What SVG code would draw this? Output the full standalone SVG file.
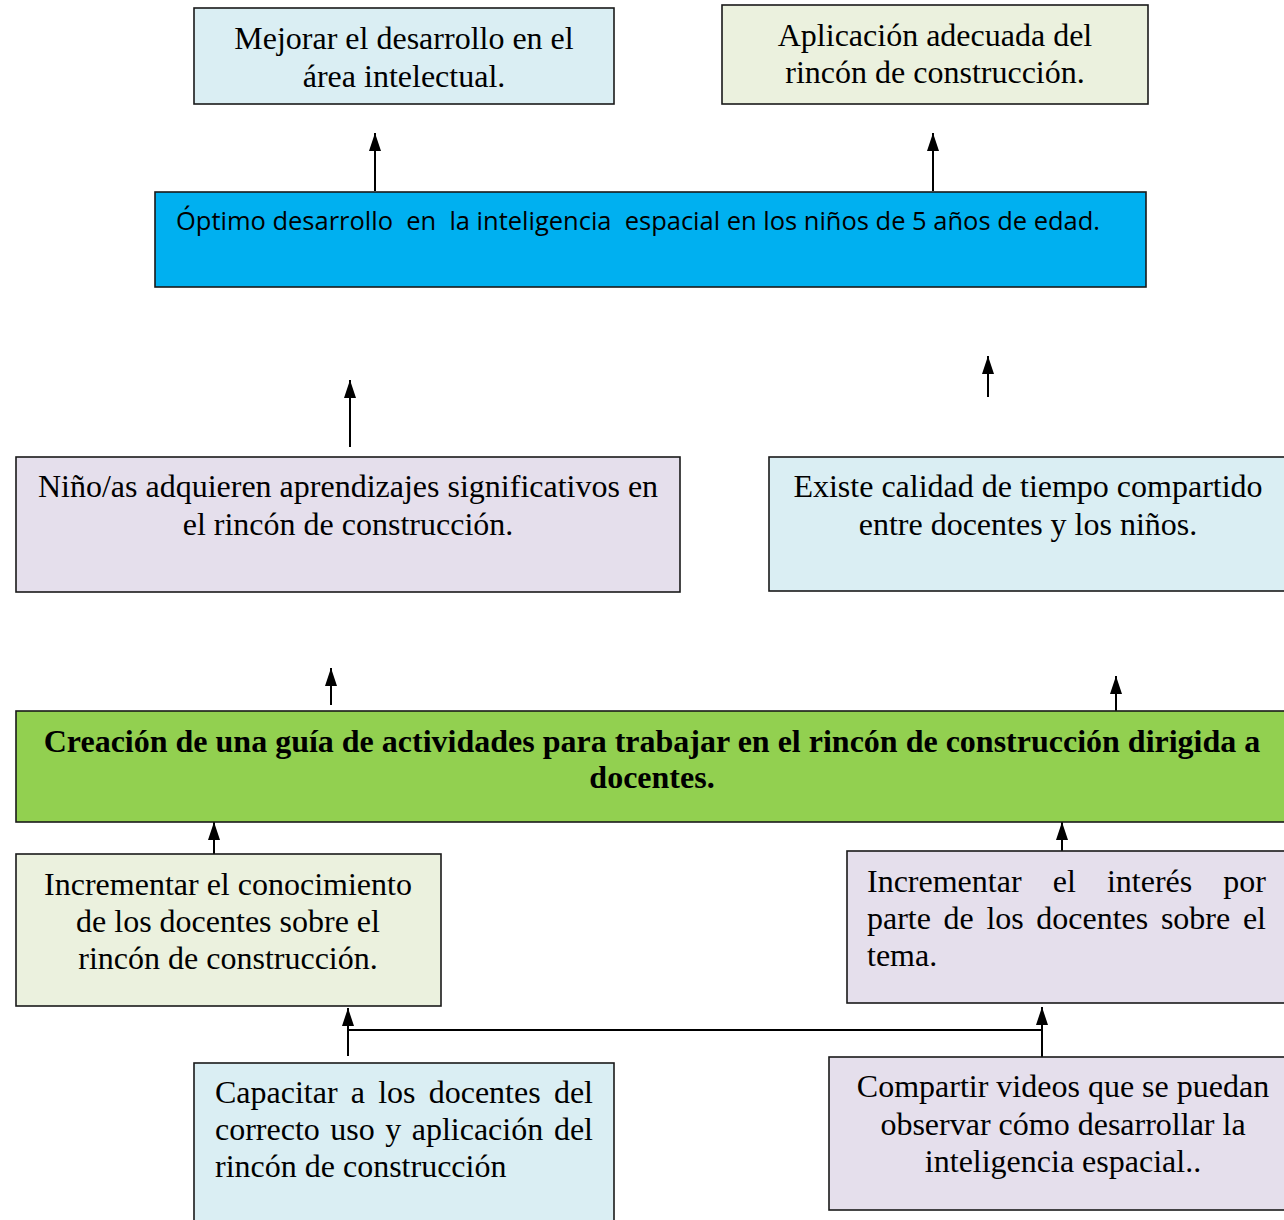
<svg xmlns="http://www.w3.org/2000/svg" width="1284" height="1220" viewBox="0 0 1284 1220">
<defs>
<marker id="ah" viewBox="0 0 18 12" refX="18" refY="6" markerWidth="18" markerHeight="12" markerUnits="userSpaceOnUse" orient="auto">
<path d="M0,0 L18,6 L0,12 Z" fill="#000"/>
</marker>
<style>
.box{stroke:#1a1a1a;stroke-width:1.6}
.t{font-family:"Liberation Serif","Times New Roman",serif;font-size:32px;fill:#000}
.c{text-anchor:middle}
.b{font-weight:bold}
.s{font-family:"Open Sans","Noto Sans",sans-serif;font-size:25px;fill:#000}
.con{stroke:#000;stroke-width:2;fill:none}
</style>
</defs>
<rect width="1284" height="1220" fill="#fff"/>

<g id="connectors">
<line class="con" x1="375" y1="191" x2="375" y2="133" marker-end="url(#ah)"/>
<line class="con" x1="933" y1="191" x2="933" y2="133" marker-end="url(#ah)"/>
<line class="con" x1="350" y1="447" x2="350" y2="380" marker-end="url(#ah)"/>
<line class="con" x1="988" y1="397" x2="988" y2="356" marker-end="url(#ah)"/>
<line class="con" x1="331" y1="705" x2="331" y2="668" marker-end="url(#ah)"/>
<line class="con" x1="1116" y1="712" x2="1116" y2="676" marker-end="url(#ah)"/>
<line class="con" x1="214" y1="854" x2="214" y2="822" marker-end="url(#ah)"/>
<line class="con" x1="1062" y1="851" x2="1062" y2="822" marker-end="url(#ah)"/>
<line class="con" x1="348" y1="1056" x2="348" y2="1008" marker-end="url(#ah)"/>
<line class="con" x1="1042" y1="1058" x2="1042" y2="1007" marker-end="url(#ah)"/>
<line class="con" x1="348" y1="1030" x2="1042" y2="1030"/>
</g>

<g id="n1">
<rect class="box" x="194" y="8" width="420" height="96" fill="#DAEEF3"/>
<text class="t c" x="404" y="49">Mejorar el desarrollo en el</text>
<text class="t c" x="404" y="87">área intelectual.</text>
</g>

<g id="n2">
<rect class="box" x="722" y="5" width="426" height="99" fill="#EBF1DE"/>
<text class="t c" x="935" y="46">Aplicación adecuada del</text>
<text class="t c" x="935" y="83">rincón de construcción.</text>
</g>

<g id="n3">
<rect class="box" x="155" y="192" width="991" height="95" fill="#00B0F0"/>
<text class="s" x="176" y="230" textLength="924" lengthAdjust="spacingAndGlyphs" xml:space="preserve">Óptimo desarrollo  en  la inteligencia  espacial en los niños de 5 años de edad.</text>
</g>

<g id="n4">
<rect class="box" x="16" y="457" width="664" height="135" fill="#E5DFEC"/>
<text class="t c" x="348" y="497">Niño/as adquieren aprendizajes significativos en</text>
<text class="t c" x="348" y="535">el rincón de construcción.</text>
</g>

<g id="n5">
<rect class="box" x="769" y="457" width="520" height="134" fill="#DAEEF3"/>
<text class="t c" x="1028" y="497">Existe calidad de tiempo compartido</text>
<text class="t c" x="1028" y="535">entre docentes y los niños.</text>
</g>

<g id="n6">
<rect class="box" x="16" y="711" width="1273" height="111" fill="#92D050"/>
<text class="t b c" x="652" y="752">Creación de una guía de actividades para trabajar en el rincón de construcción dirigida a</text>
<text class="t b c" x="652" y="788">docentes.</text>
</g>

<g id="n7">
<rect class="box" x="16" y="854" width="425" height="152" fill="#EBF1DE"/>
<text class="t c" x="228" y="895">Incrementar el conocimiento</text>
<text class="t c" x="228" y="932">de los docentes sobre el</text>
<text class="t c" x="228" y="969">rincón de construcción.</text>
</g>

<g id="n8">
<rect class="box" x="847" y="851" width="442" height="152" fill="#E5DFEC"/>
<text class="t" y="892"><tspan x="867">Incrementar</tspan><tspan x="1052.7">el</tspan><tspan x="1106.9">interés</tspan><tspan x="1266" text-anchor="end">por</tspan></text>
<text class="t" y="929"><tspan x="867">parte</tspan><tspan x="943.6">de</tspan><tspan x="986.4">los</tspan><tspan x="1036.3">docentes</tspan><tspan x="1160.9">sobre</tspan><tspan x="1266" text-anchor="end">el</tspan></text>
<text class="t" x="867" y="966">tema.</text>
</g>

<g id="n9">
<rect class="box" x="194" y="1063" width="420" height="170" fill="#DAEEF3"/>
<text class="t" y="1103"><tspan x="215">Capacitar</tspan><tspan x="350.8">a</tspan><tspan x="378.2">los</tspan><tspan x="428.7">docentes</tspan><tspan x="593" text-anchor="end">del</tspan></text>
<text class="t" y="1140"><tspan x="215">correcto</tspan><tspan x="330.3">uso</tspan><tspan x="385.2">y</tspan><tspan x="411.7">aplicación</tspan><tspan x="593" text-anchor="end">del</tspan></text>
<text class="t" x="215" y="1177">rincón de construcción</text>
</g>

<g id="n10">
<rect class="box" x="829" y="1057" width="460" height="153" fill="#E5DFEC"/>
<text class="t c" x="1063" y="1097">Compartir videos que se puedan</text>
<text class="t c" x="1063" y="1135">observar cómo desarrollar la</text>
<text class="t c" x="1063" y="1172">inteligencia espacial..</text>
</g>
</svg>
